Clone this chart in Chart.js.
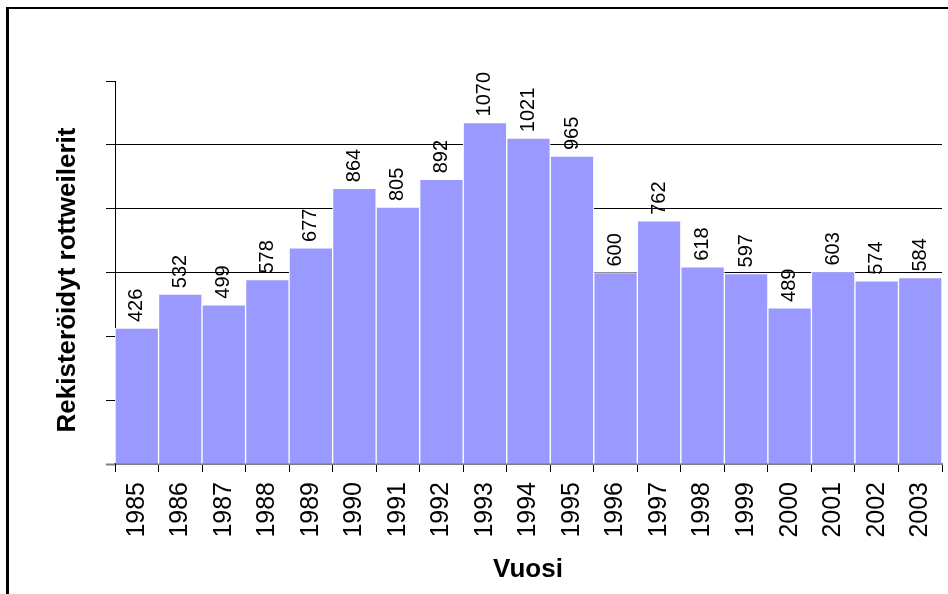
<!DOCTYPE html>
<html>
<head>
<meta charset="utf-8">
<script src="https://cdn.jsdelivr.net/npm/chart.js@4"></script>
<style>
  body { margin: 0; background: #fff; }
  #wrap { width: 948px; height: 594px; }
</style>
</head>
<body>
<div id="wrap"><canvas id="rottChart" width="948" height="594"></canvas></div>
<script>
// vuodet ja rekisteröinnit
const years = ['1985', '1986', '1987', '1988', '1989', '1990', '1991', '1992', '1993', '1994',
               '1995', '1996', '1997', '1998', '1999', '2000', '2001', '2002', '2003'];
const registrations = [426, 532, 499, 578, 677, 864, 805, 892, 1070, 1021,
                       965, 600, 762, 618, 597, 489, 603, 574, 584];
const gridValues = [600, 800, 1000];
const yTitle = 'Rekisteröidyt rottweilerit';
const xTitle = 'Vuosi';

const FONT = 'Arial, "Liberation Sans", sans-serif';

// kehys, akselien otsikot ja arvot pylväiden päällä
const decorations = {
    id: 'decorations',
    beforeDraw(chart) {
        const c = chart.ctx;
        c.save();
        c.fillStyle = '#000';
        c.fillRect(6, 7, 3, chart.height);
        c.fillRect(6, 7, chart.width, 2);
        c.restore();
    },
    afterDatasetsDraw(chart) {
        const c = chart.ctx;
        const bars = chart.getDatasetMeta(0).data;
        c.save();
        c.fillStyle = '#000';
        c.font = '20px ' + FONT;
        c.textAlign = 'left';
        c.textBaseline = 'middle';
        bars.forEach((bar, i) => {
            c.save();
            c.translate(bar.x, bar.y - 6);
            c.rotate(-Math.PI / 2);
            c.fillText(String(registrations[i]), 0, 0);
            c.restore();
        });

        c.font = 'bold 26px ' + FONT;
        c.textAlign = 'center';
        c.save();
        c.translate(68, 280);
        c.rotate(-Math.PI / 2);
        c.fillText(yTitle, 0, 0);
        c.restore();
        c.fillText(xTitle, 528, 570);
        c.restore();
    }
};

const ctx = document.getElementById('rottChart').getContext('2d');
const rottChart = new Chart(ctx, {
    type: 'bar',
    data: {
        labels: years,
        datasets: [{
            data: registrations,
            backgroundColor: '#9999ff',
            borderColor: '#ffffff',
            borderWidth: { top: 1, left: 1, right: 1, bottom: 0 },
            borderSkipped: 'bottom',
            barPercentage: 1,
            categoryPercentage: 1
        }]
    },
    options: {
        responsive: false,
        animation: false,
        layout: { padding: { top: 81, right: 6, left: 0, bottom: 0 } },
        plugins: {
            legend: { display: false },
            tooltip: { enabled: false }
        },
        scales: {
            x: {
                offset: true,
                grid: {
                    offset: true,
                    drawOnChartArea: false,
                    tickLength: 8,
                    tickColor: '#000'
                },
                border: { color: '#808080', width: 2 },
                ticks: {
                    autoSkip: false,
                    minRotation: 90,
                    maxRotation: 90,
                    padding: 10,
                    color: '#000',
                    font: { family: FONT, size: 25 }
                },
                afterFit(scale) {
                    scale.height = 130;
                    scale.paddingLeft = 0;
                    scale.paddingRight = 0;
                }
            },
            y: {
                min: 0,
                max: 1200,
                ticks: { stepSize: 200, display: false },
                grid: {
                    color: c => gridValues.includes(c.tick.value) ? '#000' : 'rgba(0,0,0,0)',
                    tickColor: c => c.tick.value === 0 ? '#808080' : '#000',
                    tickWidth: c => c.tick.value === 0 ? 2 : 1,
                    tickLength: 9
                },
                border: { color: '#000', width: 1 },
                afterFit(scale) {
                    scale.width = 115;
                    scale.paddingTop = 0;
                    scale.paddingBottom = 0;
                }
            }
        }
    },
    plugins: [decorations]
});
</script>
</body>
</html>
